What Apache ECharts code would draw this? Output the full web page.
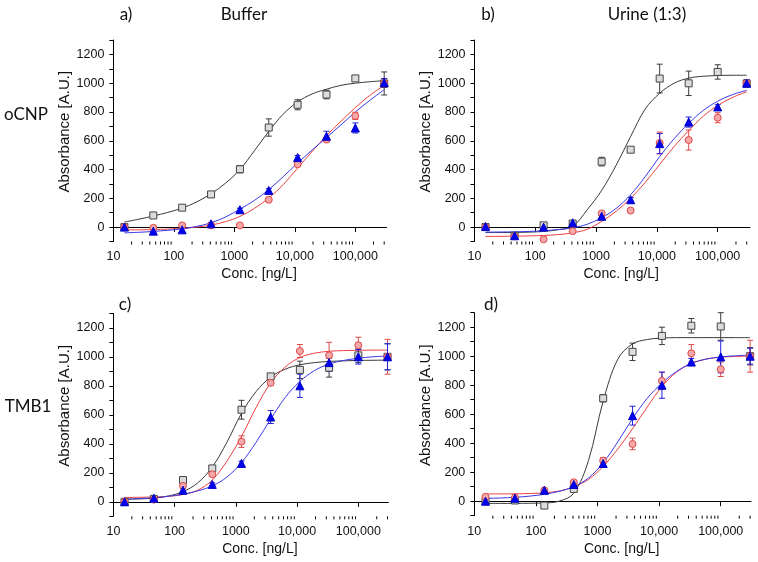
<!DOCTYPE html>
<html><head><meta charset="utf-8">
<script src="https://cdn.jsdelivr.net/npm/echarts@6/dist/echarts.min.js"></script>
<style>html,body{margin:0;padding:0;background:#fff}#c{width:758px;height:562px}</style>
</head><body><div id="c"></div><script>
// concentrations of measured points (ng/L)
const CONC = [15.2, 45.7, 137, 412, 1235, 3704, 11111, 33333, 100000, 300000];
// x positions where fitted curves were read
const FIT_X = [15.2, 26.4, 45.7, 79.2, 137, 238, 412, 713, 1235, 2138, 3704, 6415, 11111, 19245, 33333, 57735, 100000, 173205, 300000];
const X_LABEL_TICKS = [10, 100, 1000, 10000, 100000];
const Y_LABEL_TICKS = [0, 200, 400, 600, 800, 1000, 1200];

// ---- panel a) oCNP / Buffer
const A_BLACK = [0, 81, 135, 227, 402, 692, 850, 921, 1033, 998];
const A_BLACK_ERR = [10, 12, 12, 10, 25, 60, 35, 30, 10, 80];
const A_RED = [0, -5, 12, 12, 12, 190, 436, 608, 773, 1000];
const A_RED_ERR = [10, 10, 10, 10, 8, 10, 12, 15, 25, 30];
const A_BLUE = [0, -28, -19, 23, 121, 255, 483, 631, 689, 1003];
const A_BLUE_ERR = [8, 8, 10, 10, 10, 12, 15, 35, 35, 30];
const A_BLACK_FIT = [35, 55, 77, 102, 132, 175, 232, 305, 400, 530, 665, 785, 870, 925, 958, 985, 1000, 1010, 1017];
const A_RED_FIT = [-19, -19, -17, -14, -9, 0, 14, 38, 74, 130, 202, 295, 410, 525, 635, 735, 830, 915, 985];
const A_BLUE_FIT = [-40, -36, -30, -22, -12, 5, 30, 70, 125, 185, 260, 350, 445, 535, 622, 710, 800, 880, 955];

// ---- panel b) oCNP / Urine (1:3)
const B_BLACK = [0, -60, 12, 25, 455, 538, 1032, 999, 1078, 997];
const B_BLACK_ERR = [10, 10, 15, 10, 30, 10, 100, 85, 50, 20];
const B_RED = [0, -65, -85, -28, 95, 115, 585, 605, 760, 1000];
const B_RED_ERR = [8, 10, 8, 10, 12, 10, 75, 70, 35, 20];
const B_BLUE = [5, -60, 0, 30, 75, 190, 580, 730, 835, 1000];
const B_BLUE_ERR = [8, 10, 10, 10, 10, 15, 70, 35, 15, 25];
const B_BLACK_FIT = [-38, -38, -37, -35, -30, -18, 5, 120, 255, 430, 630, 820, 930, 1000, 1035, 1048, 1053, 1055, 1055];
const B_RED_FIT = [-65, -64, -63, -61, -58, -52, -40, -15, 40, 110, 200, 310, 435, 560, 670, 770, 845, 900, 940];
const B_BLUE_FIT = [-35, -34, -33, -30, -25, -17, -5, 20, 65, 130, 225, 350, 490, 615, 720, 810, 875, 920, 950];

// ---- panel c) TMB1 / Buffer
const C_BLACK = [0, 20, 150, 230, 635, 865, 910, 925, 1010, 1000];
const C_BLACK_ERR = [10, 10, 10, 10, 65, 15, 60, 65, 50, 90];
const C_RED = [0, 15, 110, 190, 415, 820, 1040, 1010, 1080, 1000];
const C_RED_ERR = [10, 10, 10, 10, 40, 15, 45, 90, 55, 120];
const C_BLUE = [0, 25, 80, 120, 265, 585, 800, 960, 1000, 1000];
const C_BLUE_ERR = [8, 10, 10, 10, 15, 45, 80, 60, 50, 90];
const C_BLACK_FIT = [18, 20, 25, 40, 70, 130, 240, 410, 610, 760, 860, 915, 945, 960, 968, 972, 975, 976, 977];
const C_RED_FIT = [30, 31, 33, 38, 50, 80, 150, 280, 450, 650, 820, 930, 995, 1025, 1038, 1043, 1045, 1046, 1046];
const C_BLUE_FIT = [18, 22, 28, 38, 52, 75, 110, 170, 270, 410, 570, 720, 830, 905, 950, 975, 990, 1000, 1005];

// ---- panel d) TMB1 / Urine (1:3)
const D_BLACK = [0, 5, -30, 85, 710, 1030, 1140, 1210, 1205, 1000];
const D_BLACK_ERR = [10, 10, 10, 10, 25, 60, 60, 50, 95, 60];
const D_RED = [30, 25, 75, 130, 280, 395, 830, 1020, 910, 1000];
const D_RED_ERR = [10, 10, 10, 15, 20, 40, 60, 60, 50, 110];
const D_BLUE = [0, 20, 75, 115, 260, 590, 800, 960, 995, 1000];
const D_BLUE_ERR = [8, 10, 10, 10, 15, 65, 90, 25, 110, 55];
const D_BLACK_FIT = [-15, -15, -15, -14, -12, 0, 55, 280, 690, 980, 1085, 1115, 1125, 1128, 1128, 1128, 1128, 1128, 1128];
const D_RED_FIT = [50, 50, 51, 53, 58, 70, 100, 150, 240, 360, 500, 650, 790, 890, 950, 980, 993, 998, 1000];
const D_BLUE_FIT = [20, 22, 27, 35, 48, 68, 100, 160, 265, 410, 570, 710, 815, 895, 950, 980, 995, 1003, 1008];

const PANELS = [
  {black: A_BLACK, blackErr: A_BLACK_ERR, red: A_RED, redErr: A_RED_ERR, blue: A_BLUE, blueErr: A_BLUE_ERR,
   blackFit: A_BLACK_FIT, redFit: A_RED_FIT, blueFit: A_BLUE_FIT, xMax: 330000,
   grid: {left: 113.4, top: 40, width: 273.3, height: 201.5}},
  {black: B_BLACK, blackErr: B_BLACK_ERR, red: B_RED, redErr: B_RED_ERR, blue: B_BLUE, blueErr: B_BLUE_ERR,
   blackFit: B_BLACK_FIT, redFit: B_RED_FIT, blueFit: B_BLUE_FIT, xMax: 340000,
   grid: {left: 474.5, top: 40, width: 275.5, height: 201.5}},
  {black: C_BLACK, blackErr: C_BLACK_ERR, red: C_RED, redErr: C_RED_ERR, blue: C_BLUE, blueErr: C_BLUE_ERR,
   blackFit: C_BLACK_FIT, redFit: C_RED_FIT, blueFit: C_BLUE_FIT, xMax: 310000,
   grid: {left: 113.4, top: 313.3, width: 275, height: 203}},
  {black: D_BLACK, blackErr: D_BLACK_ERR, red: D_RED, redErr: D_RED_ERR, blue: D_BLUE, blueErr: D_BLUE_ERR,
   blackFit: D_BLACK_FIT, redFit: D_RED_FIT, blueFit: D_BLUE_FIT, xMax: 310000,
   grid: {left: 474.3, top: 312.7, width: 276.7, height: 203}}
];

const Y_MIN = -100, Y_MAX = 1300;
const FONT = 'Liberation Sans, Arial, sans-serif';
const COL = {
  black: {line: '#3a3a3a', fill: '#dcdcdc', border: '#454545', err: '#3a3a3a', symbol: 'rect', size: 7},
  red:   {line: '#ee4040', fill: '#f4a8a8', border: '#e04848', err: '#e04848', symbol: 'circle', size: 7},
  blue:  {line: '#3838e8', fill: '#0000f0', border: '#0000c8', err: '#2020e0', symbol: 'triangle', size: 8}
};

function xFmt(v) {
  const l = Math.log10(v), r = Math.round(l);
  if (Math.abs(l - r) > 1e-6) return '';
  const n = Math.pow(10, r);
  if (X_LABEL_TICKS.indexOf(n) < 0) return '';
  return n >= 10000 ? n.toLocaleString('en-US') : String(n);
}
function yFmt(v) { return Y_LABEL_TICKS.indexOf(v) >= 0 ? String(v) : ''; }

const grids = [], xAxes = [], yAxes = [], series = [];
PANELS.forEach((p, i) => {
  grids.push(Object.assign({containLabel: false}, p.grid));
  xAxes.push({
    type: 'log', logBase: 10, gridIndex: i, min: 10, max: p.xMax,
    name: 'Conc. [ng/L]', nameLocation: 'middle', nameGap: 26,
    nameTextStyle: {fontFamily: FONT, fontSize: 14, color: '#111', padding: [0, 0, 0, 18]},
    axisLine: {lineStyle: {color: '#000', width: 1}},
    axisTick: {show: true, inside: false, length: 5, lineStyle: {color: '#000'}},
    axisLabel: {formatter: xFmt, fontFamily: FONT, fontSize: 12.5, color: '#111', margin: 9, showMinLabel: true, showMaxLabel: false},
    splitLine: {show: false}
  });
  yAxes.push({
    type: 'value', gridIndex: i, min: Y_MIN, max: Y_MAX, interval: 100,
    name: 'Absorbance [A.U.]', nameLocation: 'middle', nameGap: 38,
    nameTextStyle: {fontFamily: FONT, fontSize: 15, color: '#111', padding: [0, 0, 0, 18]},
    axisLine: {show: true, lineStyle: {color: '#000', width: 1}},
    axisTick: {show: true, length: 4, lineStyle: {color: '#000'}},
    axisLabel: {formatter: yFmt, fontFamily: FONT, fontSize: 12.5, color: '#111', margin: 9},
    splitLine: {show: false}
  });
  // minor log ticks on x axis
  const minor = [];
  for (let k = 1; k <= 5; k++) for (let m = 2; m <= 9; m++) {
    const v = m * Math.pow(10, k);
    if (v < p.xMax) minor.push([v, Y_MIN]);
  }
  series.push({
    type: 'custom', xAxisIndex: i, yAxisIndex: i, clip: false, silent: true, z: 1,
    data: minor,
    renderItem: (params, api) => {
      const pt = api.coord([api.value(0), api.value(1)]);
      return {type: 'line', shape: {x1: pt[0], y1: pt[1], x2: pt[0], y2: pt[1] + 3}, style: {stroke: '#000', lineWidth: 1}};
    }
  });
  ['black', 'red', 'blue'].forEach(key => {
    const c = COL[key];
    series.push({
      type: 'line', xAxisIndex: i, yAxisIndex: i, showSymbol: false, smooth: 0.35, silent: true, z: 2,
      lineStyle: {color: c.line, width: 1},
      data: FIT_X.map((x, j) => [x, p[key + 'Fit'][j]])
    });
  });
  ['black', 'red', 'blue'].forEach(key => {
    const c = COL[key];
    series.push({
      type: 'custom', xAxisIndex: i, yAxisIndex: i, silent: true, z: 3,
      data: CONC.map((x, j) => [x, p[key][j], p[key + 'Err'][j]]),
      renderItem: (params, api) => {
        const x = api.value(0), y = api.value(1), e = api.value(2);
        const hi = api.coord([x, y + e]), lo = api.coord([x, y - e]);
        const st = {stroke: c.err, lineWidth: 1};
        return {type: 'group', children: [
          {type: 'line', shape: {x1: hi[0], y1: hi[1], x2: lo[0], y2: lo[1]}, style: st},
          {type: 'line', shape: {x1: hi[0] - 3, y1: hi[1], x2: hi[0] + 3, y2: hi[1]}, style: st},
          {type: 'line', shape: {x1: lo[0] - 3, y1: lo[1], x2: lo[0] + 3, y2: lo[1]}, style: st}
        ]};
      }
    });
    series.push({
      type: 'scatter', xAxisIndex: i, yAxisIndex: i, z: 4, symbol: c.symbol, symbolSize: c.size,
      itemStyle: {color: c.fill, borderColor: c.border, borderWidth: 1, opacity: 1},
      data: CONC.map((x, j) => [x, p[key][j]])
    });
  });
});

const TF = 'Lato, "Open Sans", sans-serif';
function txt(t, x, y) {
  return {type: 'text', x: x, y: y, style: {text: t, font: '17px ' + TF, fill: '#111', textAlign: 'center', textVerticalAlign: 'middle'}};
}
const chart = echarts.init(document.getElementById('c'), null, {renderer: 'canvas'});
chart.setOption({
  animation: false,
  backgroundColor: '#fff',
  grid: grids, xAxis: xAxes, yAxis: yAxes, series: series,
  graphic: [
    txt('a)', 126, 15), txt('Buffer', 244, 15),
    txt('b)', 488, 15), txt('Urine (1:3)', 647, 15),
    txt('oCNP', 26, 115), txt('TMB1', 28, 407),
    txt('c)', 125, 305), txt('d)', 491, 305)
  ]
});
</script></body></html>
